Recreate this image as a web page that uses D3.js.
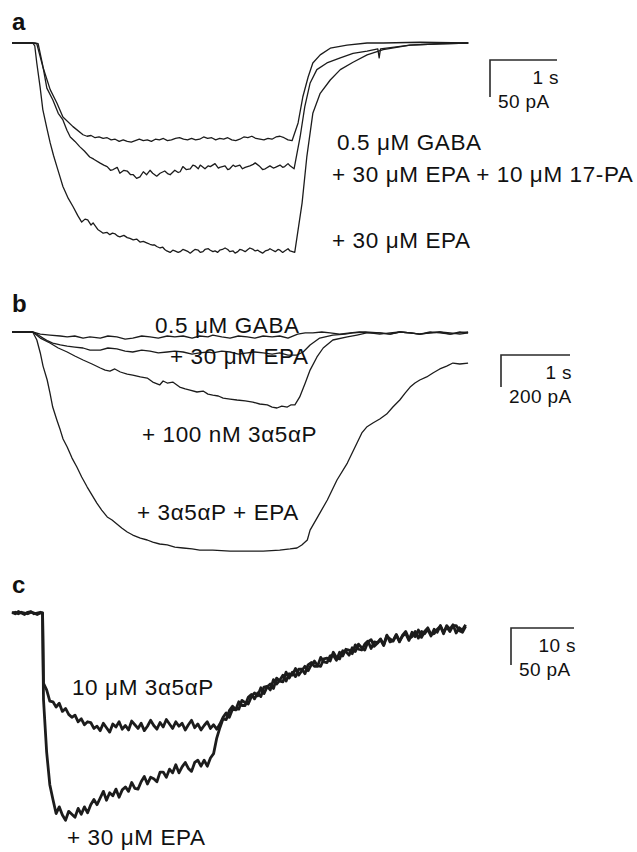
<!DOCTYPE html>
<html><head><meta charset="utf-8">
<script src="https://cdn.jsdelivr.net/npm/d3@7"></script>
<style>body{margin:0;background:#fff}svg{display:block}</style>
</head><body><svg id="fig" width="637" height="852"></svg>
<script>
// ---------- DATA (time in s, current in pA) ----------
const aGaba = [[0,0],[0.31,0],[0.37,-1],[0.46,-32],[0.57,-63],[0.67,-81],[0.76,-100],[0.91,-113],[1.06,-124],[1.12,-126],[1.18,-125],[1.24,-128],[1.30,-127],[1.36,-129],[1.42,-128],[1.48,-131],[1.54,-130],[1.60,-133],[1.66,-131],[1.72,-133],[1.78,-134],[1.84,-132],[1.90,-130],[1.96,-132],[2.02,-131],[2.08,-133],[2.14,-130],[2.20,-131],[2.26,-129],[2.32,-132],[2.38,-131],[2.44,-129],[2.50,-128],[2.56,-130],[2.62,-131],[2.68,-129],[2.74,-131],[2.80,-130],[2.86,-127],[2.92,-129],[2.98,-128],[3.04,-131],[3.10,-129],[3.16,-130],[3.22,-128],[3.28,-131],[3.34,-132],[3.40,-130],[3.46,-127],[3.52,-128],[3.58,-126],[3.64,-129],[3.70,-130],[3.76,-131],[3.82,-129],[3.88,-130],[3.94,-127],[4.00,-126],[4.06,-128],[4.12,-131],[4.18,-132],[4.27,-108],[4.34,-73],[4.42,-46],[4.49,-27],[4.60,-16],[4.75,-7],[5.00,-3],[5.30,0],[5.54,0],[6.09,1],[6.81,0]];
const aEpa17pa = [[0,0],[0.34,0],[0.39,-1],[0.46,-31],[0.52,-61],[0.61,-77],[0.69,-95],[0.76,-104],[0.82,-118],[0.87,-127],[0.94,-133],[1.01,-140],[1.08,-146],[1.16,-154],[1.22,-157],[1.31,-162],[1.37,-165],[1.42,-167],[1.47,-172],[1.51,-171],[1.57,-168],[1.61,-176],[1.67,-172],[1.72,-173],[1.77,-178],[1.81,-178],[1.86,-183],[1.91,-181],[1.96,-174],[2.01,-178],[2.06,-172],[2.10,-176],[2.16,-180],[2.21,-176],[2.28,-173],[2.33,-177],[2.36,-178],[2.43,-172],[2.48,-175],[2.51,-174],[2.55,-167],[2.60,-171],[2.66,-170],[2.70,-165],[2.73,-166],[2.78,-170],[2.81,-165],[2.88,-170],[2.93,-166],[2.96,-167],[3.03,-163],[3.08,-169],[3.10,-168],[3.18,-166],[3.22,-171],[3.25,-170],[3.30,-165],[3.33,-167],[3.40,-165],[3.44,-170],[3.48,-168],[3.55,-166],[3.60,-164],[3.63,-162],[3.70,-167],[3.74,-171],[3.78,-170],[3.85,-166],[3.90,-169],[3.93,-168],[4.00,-165],[4.04,-168],[4.07,-167],[4.12,-163],[4.15,-166],[4.21,-170],[4.30,-127],[4.37,-86],[4.45,-54],[4.55,-36],[4.70,-27],[4.90,-20],[5.09,-14],[5.30,-11],[5.46,-8],[5.48,-20],[5.50,-8],[5.94,-3],[6.39,-1],[6.81,0]];
const aEpa = [[0,0],[0.31,0],[0.34,-4],[0.37,-27],[0.42,-60],[0.46,-90],[0.52,-115],[0.57,-135],[0.62,-152],[0.67,-167],[0.72,-182],[0.76,-194],[0.84,-210],[0.91,-221],[0.98,-233],[1.04,-242],[1.09,-238],[1.13,-239],[1.18,-246],[1.21,-243],[1.28,-252],[1.33,-255],[1.36,-257],[1.42,-256],[1.46,-259],[1.50,-257],[1.54,-258],[1.58,-261],[1.61,-262],[1.67,-260],[1.72,-263],[1.76,-264],[1.81,-266],[1.86,-265],[1.91,-269],[1.96,-268],[2.01,-270],[2.06,-272],[2.10,-273],[2.13,-273],[2.16,-275],[2.21,-277],[2.25,-276],[2.28,-279],[2.31,-281],[2.36,-283],[2.40,-280],[2.43,-281],[2.48,-283],[2.51,-282],[2.55,-279],[2.58,-280],[2.63,-282],[2.66,-284],[2.70,-281],[2.73,-279],[2.78,-280],[2.81,-283],[2.85,-282],[2.88,-279],[2.93,-278],[2.96,-280],[3.00,-282],[3.03,-281],[3.07,-283],[3.10,-280],[3.14,-279],[3.18,-277],[3.22,-279],[3.25,-282],[3.30,-281],[3.33,-284],[3.37,-282],[3.40,-279],[3.44,-280],[3.48,-282],[3.52,-279],[3.55,-277],[3.60,-279],[3.63,-281],[3.67,-280],[3.70,-282],[3.74,-284],[3.78,-281],[3.82,-280],[3.85,-278],[3.89,-280],[3.93,-282],[3.97,-279],[4.00,-280],[4.04,-283],[4.07,-281],[4.12,-278],[4.15,-281],[4.22,-283],[4.33,-216],[4.40,-154],[4.49,-95],[4.60,-68],[4.75,-50],[4.90,-36],[5.09,-26],[5.30,-16],[5.54,-9],[5.94,-3],[6.39,-1],[6.81,0]];

const bGaba = [[0,0],[0.30,0],[0.41,-13],[0.55,-19],[0.70,-25],[0.80,-31],[0.91,-25],[1.03,-38],[1.13,-31],[1.28,-38],[1.39,-25],[1.52,-31],[1.64,-44],[1.75,-38],[1.88,-25],[2.00,-31],[2.12,-38],[2.25,-25],[2.36,-31],[2.48,-25],[2.61,-38],[2.72,-25],[2.84,-31],[2.91,-19],[3.04,-31],[3.16,-38],[3.28,-25],[3.41,-31],[3.52,-38],[3.64,-25],[3.77,-31],[3.88,-25],[4.00,-38],[4.14,-13],[4.25,-6],[4.36,-6],[4.49,0],[4.61,-6],[4.75,-13],[4.90,-6],[5.04,0],[5.19,-6],[5.33,-13],[5.48,-6],[5.62,0],[5.77,-6],[5.91,-13],[6.06,-6],[6.20,0],[6.35,-6],[6.49,-13],[6.61,-6]];
const bEpa = [[0,0],[0.30,0],[0.38,-19],[0.45,-38],[0.52,-56],[0.59,-69],[0.70,-81],[0.80,-88],[0.91,-94],[1.03,-100],[1.13,-113],[1.28,-113],[1.39,-100],[1.52,-106],[1.64,-119],[1.75,-125],[1.88,-113],[2.00,-119],[2.12,-131],[2.25,-125],[2.36,-119],[2.48,-125],[2.61,-138],[2.72,-131],[2.84,-125],[2.91,-131],[3.04,-119],[3.16,-125],[3.28,-138],[3.41,-131],[3.52,-125],[3.64,-131],[3.77,-138],[3.88,-131],[4.00,-144],[4.13,-144],[4.22,-125],[4.32,-81],[4.46,-38],[4.65,-19],[4.83,-13],[4.94,-6],[5.12,0],[5.33,-6],[5.48,-13],[5.62,0],[5.77,-6],[5.91,-13],[6.06,0],[6.20,-6],[6.35,-13],[6.49,0],[6.61,-6]];
const b3a5aP = [[0,0],[0.30,0],[0.41,-38],[0.55,-69],[0.67,-100],[0.80,-125],[0.91,-150],[1.03,-175],[1.16,-200],[1.28,-225],[1.35,-238],[1.42,-244],[1.49,-231],[1.57,-250],[1.67,-263],[1.75,-269],[1.86,-281],[1.96,-288],[2.04,-313],[2.14,-331],[2.19,-306],[2.25,-319],[2.33,-313],[2.41,-338],[2.43,-344],[2.51,-356],[2.58,-363],[2.68,-375],[2.77,-369],[2.84,-388],[2.91,-394],[2.99,-400],[3.06,-413],[3.16,-419],[3.26,-425],[3.38,-431],[3.49,-438],[3.59,-450],[3.70,-456],[3.77,-469],[3.84,-475],[3.91,-463],[3.99,-469],[4.04,-456],[4.10,-456],[4.17,-406],[4.25,-319],[4.32,-238],[4.42,-156],[4.51,-100],[4.65,-50],[4.86,-31],[5.00,-19],[5.14,-6],[5.33,-6],[5.48,-13],[5.62,0],[5.77,-6],[5.91,-13],[6.06,-6],[6.20,0],[6.35,-13],[6.49,-6],[6.61,0]];
const b3a5aPEpa = [[0,0],[0.30,0],[0.36,-50],[0.41,-131],[0.45,-213],[0.51,-300],[0.55,-381],[0.59,-469],[0.65,-550],[0.70,-613],[0.74,-669],[0.80,-719],[0.87,-788],[0.94,-844],[1.01,-906],[1.09,-969],[1.16,-1019],[1.23,-1069],[1.30,-1113],[1.38,-1156],[1.45,-1175],[1.52,-1200],[1.59,-1225],[1.67,-1250],[1.75,-1269],[1.86,-1288],[1.96,-1300],[2.04,-1313],[2.14,-1325],[2.25,-1331],[2.36,-1344],[2.48,-1350],[2.61,-1356],[2.72,-1363],[2.91,-1363],[3.16,-1369],[3.41,-1369],[3.64,-1369],[3.88,-1363],[4.03,-1356],[4.13,-1350],[4.20,-1331],[4.28,-1300],[4.32,-1238],[4.42,-1163],[4.57,-1050],[4.71,-925],[4.86,-819],[5.00,-694],[5.07,-631],[5.14,-594],[5.23,-569],[5.33,-544],[5.43,-513],[5.52,-469],[5.62,-425],[5.70,-381],[5.77,-344],[5.84,-319],[5.91,-300],[6.01,-281],[6.10,-256],[6.20,-231],[6.30,-213],[6.39,-194],[6.49,-200],[6.61,-194]];

const c3a5aP = [[0,1],[0.5,-1],[1,2],[1.5,0],[2,-2],[2.5,1],[3,2],[3.5,-1],[4,0],[4.5,1],[4.85,0],[5.0,-95],[5.5,-104],[6,-119],[6.5,-120],[7,-127],[7.5,-122],[8,-133],[8.5,-129],[9,-137],[9.5,-141],[10,-138],[10.5,-147],[11,-143],[11.5,-151],[12,-147],[12.5,-148],[13,-156],[13.5,-153],[14,-159],[14.5,-149],[15,-155],[15.5,-161],[16,-150],[16.5,-154],[17,-147],[17.5,-157],[18,-152],[18.5,-158],[19,-146],[19.5,-151],[20,-156],[20.5,-149],[21,-159],[21.5,-153],[22,-145],[22.5,-152],[23,-157],[23.5,-148],[24,-154],[24.5,-144],[25,-150],[25.5,-156],[26,-147],[26.5,-153],[27,-149],[27.5,-158],[28,-151],[28.5,-145],[29,-155],[29.5,-150],[30,-158],[30.5,-152],[31,-147],[31.5,-156],[32,-151],[32.5,-157],[33,-150],[33.5,-141],[34,-135],[34.5,-141],[35,-130],[35.5,-131],[36,-120],[36.5,-125],[37,-125],[37.5,-114],[38,-110],[38.5,-116],[39,-108],[39.5,-113],[40,-100],[40.5,-99],[41,-104],[41.5,-90],[42,-96],[42.5,-91],[43,-84],[43.5,-92],[44,-82],[44.5,-84],[45,-75],[45.5,-84],[46,-78],[46.5,-72],[47,-78],[47.5,-70],[48,-65],[48.5,-71],[49,-72],[49.5,-62],[50,-61],[50.5,-65],[51,-53],[51.5,-60],[52,-62],[52.5,-51],[53,-52],[53.5,-57],[54,-47],[54.5,-52],[55,-42],[55.5,-47],[56,-50],[56.5,-39],[57,-36],[57.5,-45],[58,-41],[58.5,-36],[59,-44],[59.5,-31],[60,-35],[60.5,-38],[61,-30],[61.5,-39],[62,-30],[62.5,-25],[63,-35],[63.5,-32],[64,-25],[64.5,-34],[65,-25],[65.5,-28],[66,-22],[66.5,-31],[67,-22],[67.5,-26],[68,-17],[68.5,-26],[69,-19],[69.5,-25],[70,-17],[70.5,-17],[71,-24],[71.5,-26],[72,-18]];
const c3a5aPEpa = [[0,0],[0.5,1],[1,-1],[1.5,1],[2,0],[2.5,-1],[3,1],[3.5,0],[4,-2],[4.5,0],[4.85,0],[5.0,-117],[5.5,-188],[6,-232],[6.5,-252],[7,-271],[7.5,-262],[8,-273],[8.5,-280],[9,-268],[9.5,-272],[10,-276],[10.5,-264],[11,-272],[11.5,-262],[12,-270],[12.5,-259],[13,-252],[13.5,-259],[14,-250],[14.5,-241],[15,-253],[15.5,-243],[16,-247],[16.5,-238],[17,-249],[17.5,-239],[18,-235],[18.5,-241],[19,-229],[19.5,-237],[20,-238],[20.5,-228],[21,-221],[21.5,-231],[22,-222],[22.5,-224],[23,-228],[23.5,-215],[24,-215],[24.5,-222],[25,-211],[25.5,-216],[26,-205],[26.5,-216],[27,-208],[27.5,-202],[28,-210],[28.5,-214],[29,-202],[29.5,-199],[30,-207],[30.5,-199],[31,-207],[31.5,-196],[32,-190],[32.5,-169],[33,-155],[33.5,-143],[34,-144],[34.5,-132],[35,-126],[35.5,-130],[36,-130],[36.5,-118],[37,-121],[37.5,-123],[38,-113],[38.5,-108],[39,-112],[39.5,-101],[40,-109],[40.5,-100],[41,-96],[41.5,-102],[42,-88],[42.5,-92],[43,-93],[43.5,-80],[44,-88],[44.5,-80],[45,-86],[45.5,-76],[46,-76],[46.5,-82],[47,-70],[47.5,-67],[48,-72],[48.5,-72],[49,-60],[49.5,-66],[50,-67],[50.5,-58],[51,-57],[51.5,-64],[52,-53],[52.5,-58],[53,-49],[53.5,-50],[54,-55],[54.5,-43],[55,-49],[55.5,-50],[56,-42],[56.5,-38],[57,-48],[57.5,-39],[58,-40],[58.5,-35],[59,-43],[59.5,-30],[60,-39],[60.5,-37],[61,-29],[61.5,-38],[62,-31],[62.5,-28],[63,-37],[63.5,-26],[64,-32],[64.5,-23],[65,-33],[65.5,-25],[66,-20],[66.5,-29],[67,-28],[67.5,-22],[68,-18],[68.5,-28],[69,-17],[69.5,-22],[70,-16],[70.5,-27],[71,-20],[71.5,-23],[72,-16]];

const panelNames = ["a", "b", "c"];
const labelsA = ["0.5 \u03BCM GABA", "+ 30 \u03BCM EPA + 10 \u03BCM 17-PA", "+ 30 \u03BCM EPA"];
const labelsB = ["0.5 \u03BCM GABA", "+ 30 \u03BCM EPA", "+ 100 nM 3\u03B15\u03B1P", "+ 3\u03B15\u03B1P + EPA"];
const labelsC = ["10 \u03BCM 3\u03B15\u03B1P", "+ 30 \u03BCM EPA"];
const scaleBarTime = [1, 1, 10];      // s
const scaleBarCurrent = [50, 200, 50]; // pA
const scaleBarTimeLabels = ["1 s", "1 s", "10 s"];
const scaleBarCurrentLabels = ["50 pA", "200 pA", "50 pA"];

// ---------- LAYOUT ----------
const svg = d3.select("#fig");
const FONT = "'Liberation Sans', Arial, Helvetica, sans-serif";
const INK = "#1c1c1c";

const panels = [
  { x: d3.scaleLinear().domain([0, 1]).range([12, 79]),
    y: d3.scaleLinear().domain([0, -50]).range([43, 80]),
    traces: [aGaba, aEpa17pa, aEpa], width: 1.3,
    label: [12, 30], bar: [490, 60],
    labels: labelsA, labelPos: [[337,150],[332,182],[332,248]] },
  { x: d3.scaleLinear().domain([0, 1]).range([12, 81]),
    y: d3.scaleLinear().domain([0, -200]).range([332, 364]),
    traces: [bGaba, bEpa, b3a5aP, b3a5aPEpa], width: 1.3,
    label: [12, 312], bar: [501, 355],
    labels: labelsB, labelPos: [[155,333],[170,364],[142,442],[137,520]] },
  { x: d3.scaleLinear().domain([0, 10]).range([12, 75]),
    y: d3.scaleLinear().domain([0, -50]).range([613, 650]),
    traces: [c3a5aP, c3a5aPEpa], width: 2.8,
    label: [12, 593], bar: [511, 628],
    labels: labelsC, labelPos: [[72,695],[67,845]] }
];

panels.forEach((p, i) => {
  const g = svg.append("g");
  const line = d3.line().x(d => p.x(d[0])).y(d => p.y(d[1]));
  g.selectAll("path.trace").data(p.traces).join("path")
    .attr("class", "trace")
    .attr("d", line)
    .attr("fill", "none")
    .attr("stroke", INK)
    .attr("stroke-width", p.width)
    .attr("stroke-linejoin", "round");

  // panel letter
  g.append("text").attr("x", p.label[0]).attr("y", p.label[1])
    .attr("font-family", FONT).attr("font-weight", "bold").attr("font-size", 24)
    .attr("fill", "#111").text(panelNames[i]);

  // condition labels
  g.selectAll("text.cond").data(p.labels).join("text")
    .attr("class", "cond")
    .attr("x", (d, j) => p.labelPos[j][0]).attr("y", (d, j) => p.labelPos[j][1])
    .attr("font-family", FONT).attr("font-size", 22.5).attr("letter-spacing", 0.6)
    .attr("fill", "#111")
    .text(d => d);

  // scale bar
  const [bx, by] = p.bar;
  const hLen = p.x(scaleBarTime[i]) - p.x(0);
  const vLen = p.y(-scaleBarCurrent[i]) - p.y(0);
  g.append("path")
    .attr("d", `M${bx + hLen},${by}H${bx}V${by + vLen}`)
    .attr("fill", "none").attr("stroke", "#2a2a2a").attr("stroke-width", 1.6);
  g.append("text").attr("x", bx + hLen + 2).attr("y", by + 24)
    .attr("text-anchor", "end").attr("font-family", FONT).attr("font-size", 19)
    .attr("letter-spacing", 0.4).attr("fill", "#111").text(scaleBarTimeLabels[i]);
  g.append("text").attr("x", bx + 8).attr("y", by + 48)
    .attr("font-family", FONT).attr("font-size", 19).attr("letter-spacing", 0.4)
    .attr("fill", "#111").text(scaleBarCurrentLabels[i]);
});
</script></body></html>
